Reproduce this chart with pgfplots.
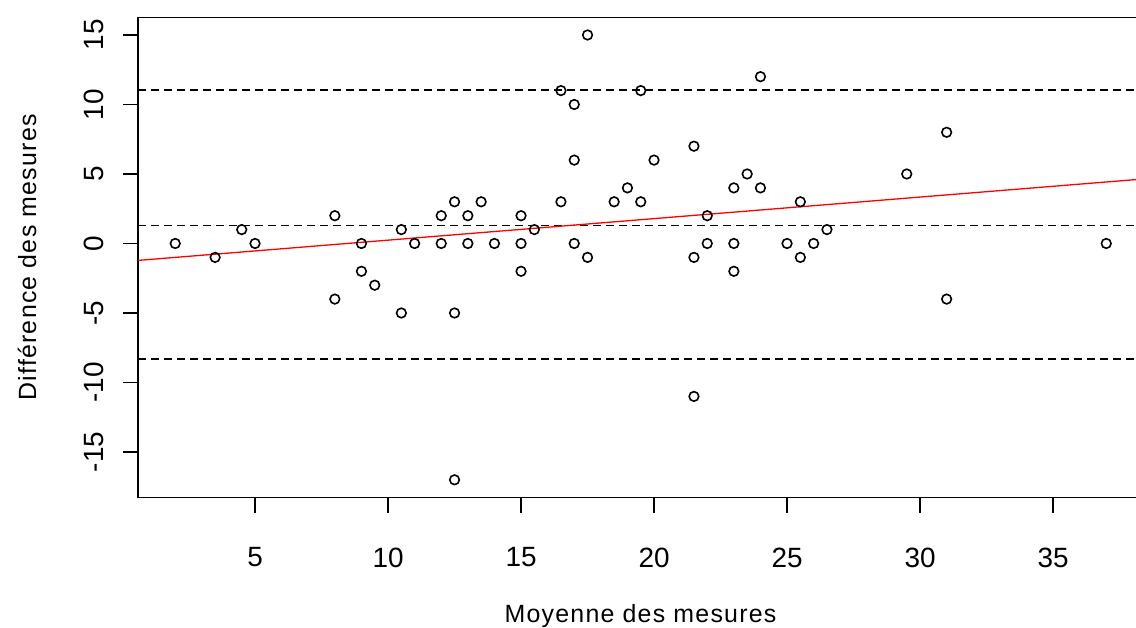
\documentclass[border=0pt]{standalone}
\usepackage{fontspec}
\setmainfont{Liberation Sans}
\usepackage{pgfplots}
\usepackage{pgfplotstable}
\pgfplotsset{compat=1.18}
\pgfplotstableread{
x y
2 0
3.5 -1
4.5 1
5 0
8 2
8 -4
9 0
9 -2
9.5 -3
10.5 1
10.5 -5
11 0
12 2
12 0
12.5 3
12.5 -5
12.5 -17
13 2
13 0
13.5 3
14 0
15 2
15 0
15 -2
15.5 1
16.5 3
16.5 11
17 10
17 6
17 0
17.5 15
17.5 -1
18.5 3
19 4
19.5 11
19.5 3
20 6
21.5 7
21.5 -1
21.5 -11
22 2
22 0
23 4
23 0
23 -2
23.5 5
24 12
24 4
25 0
25.5 3
25.5 -1
26 0
26.5 1
29.5 5
31 8
31 -4
37 0
}\pts
\begin{document}
\begin{tikzpicture}
\clip (0bp,0bp) rectangle (1136bp,628bp);
\begin{axis}[
  at={(138bp,130.4bp)}, anchor=south west,
  width=1005.5bp, height=480.4bp, scale only axis,
  xmin=0.6, xmax=38.4, ymin=-18.28, ymax=16.28,
  axis line style={line width=1.3bp, black},
  tick align=outside,
  tick style={black, line width=1.5bp},
  major tick length=15bp,
  xtick={5,10,15,20,25,30,35}, xticklabels={5,10,15,20,25,30,35},
  ytick={-15,-10,-5,0,5,10,15}, yticklabels={-15,-10,-5,0,5,10,15},
  xtick pos=left, ytick pos=left,
  ticklabel style={font=\fontsize{28}{30}\selectfont, inner sep=0pt},
  xticklabel style={anchor=north, yshift=-35bp},
  yticklabel style={rotate=90, anchor=south, yshift=19bp},
]
\addplot[black, line width=1.3bp, dash pattern=on 7.5bp off 5.5bp] coordinates {(0.6,11.05) (38.4,11.05)};
\addplot[black, line width=1.3bp, dash pattern=on 7.5bp off 5.5bp] coordinates {(0.6,1.3) (38.4,1.3)};
\addplot[black, line width=1.3bp, dash pattern=on 7.5bp off 5.5bp] coordinates {(0.6,-8.3) (38.4,-8.3)};
\addplot[only marks, mark=o, mark size=4.8bp, mark options={line width=1.6bp, black}] table[x=x,y=y] {\pts};
\addplot[red, line width=1.3bp] coordinates {(0.6,-1.217) (38.4,4.642)};
\end{axis}
\foreach \k in {5,10,15,20,25,30,35}{
  \fill[black] ({(138+(\k-0.6)*26.6005-0.75)*1bp},115.4bp) rectangle ({(138+(\k-0.6)*26.6005+0.75)*1bp},131bp);
}
\foreach \k in {-15,-10,-5,0,5,10,15}{
  \fill[black] (123bp,{(130.4+(\k+18.28)*13.9005-0.75)*1bp}) rectangle (138.5bp,{(130.4+(\k+18.28)*13.9005+0.75)*1bp});
}
\node[anchor=base, inner sep=0pt, font=\fontsize{25}{28}\selectfont\addfontfeatures{LetterSpace=5}] at (640.5bp,6bp) {Moyenne des mesures};
\node[anchor=base, rotate=90, inner sep=0pt, font=\fontsize{25}{28}\selectfont\addfontfeatures{LetterSpace=5}] at (36bp,370.6bp) {Différence des mesures};
\end{tikzpicture}
\end{document}
